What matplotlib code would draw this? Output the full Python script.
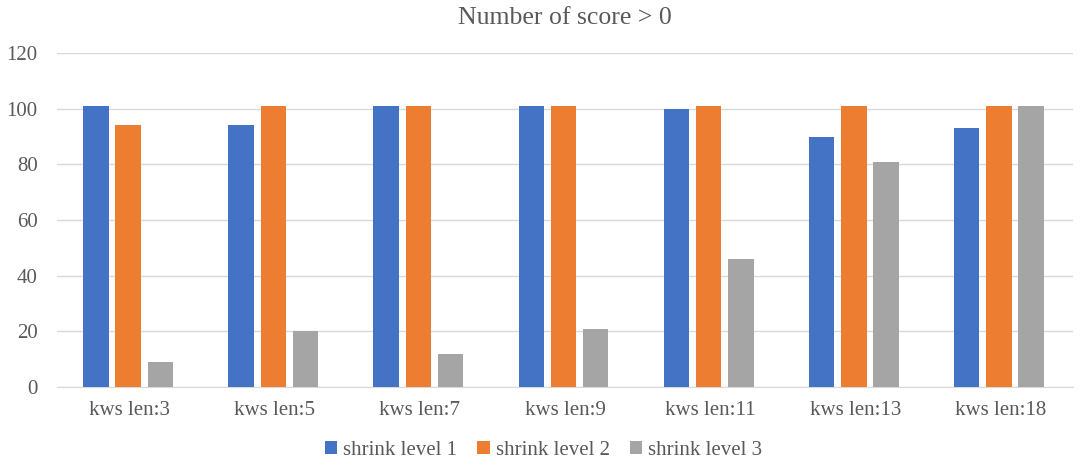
import matplotlib
matplotlib.use("Agg")
import matplotlib.pyplot as plt
import numpy as np

categories = ["kws len:3", "kws len:5", "kws len:7", "kws len:9", "kws len:11", "kws len:13", "kws len:18"]
level1 = [101, 94, 101, 101, 100, 90, 93]
level2 = [94, 101, 101, 101, 101, 101, 101]
level3 = [9, 20, 12, 21, 46, 81, 101]
series_names = ["shrink level 1", "shrink level 2", "shrink level 3"]
colors = ["#4472C4", "#ED7D31", "#A5A5A5"]

plt.rcParams['font.family'] = ['Liberation Serif', 'DejaVu Serif']
txt = "#595959"

fig = plt.figure(figsize=(10.87, 4.68), dpi=100)
ax = fig.add_axes([57/1087, 1-387/468, (1073-57)/1087, (387-53)/468])

x = np.arange(len(categories))
w = 0.175
off = 0.222
for i, (vals, name, c) in enumerate(zip([level1, level2, level3], series_names, colors)):
    ax.bar(x + (i-1)*off - 0.01, vals, width=w, color=c, label=name, zorder=3)

ax.set_xlim(-0.5, len(categories)-0.5)
ax.set_ylim(0, 120)
ax.set_yticks(range(0, 121, 20))
ax.set_xticks(x)
ax.set_xticklabels(categories)
ax.tick_params(axis='both', length=0, labelsize=15, colors=txt)
ax.tick_params(axis='x', pad=10)
ax.tick_params(axis='y', pad=14)
ax.grid(axis='y', color="#D9D9D9", linewidth=1, zorder=0)
for s in ["top", "right", "left"]:
    ax.spines[s].set_visible(False)
ax.spines["bottom"].set_color("#D9D9D9")
ax.set_title("Number of score > 0", fontsize=18.5, color=txt, pad=21)

fig.legend(loc='lower center', bbox_to_anchor=(0.5, -0.022), ncol=3, frameon=False,
           fontsize=15, labelcolor=txt, handlelength=0.6, handleheight=0.6,
           handletextpad=0.3, columnspacing=0.95)

fig.savefig("out.png", dpi=100)
